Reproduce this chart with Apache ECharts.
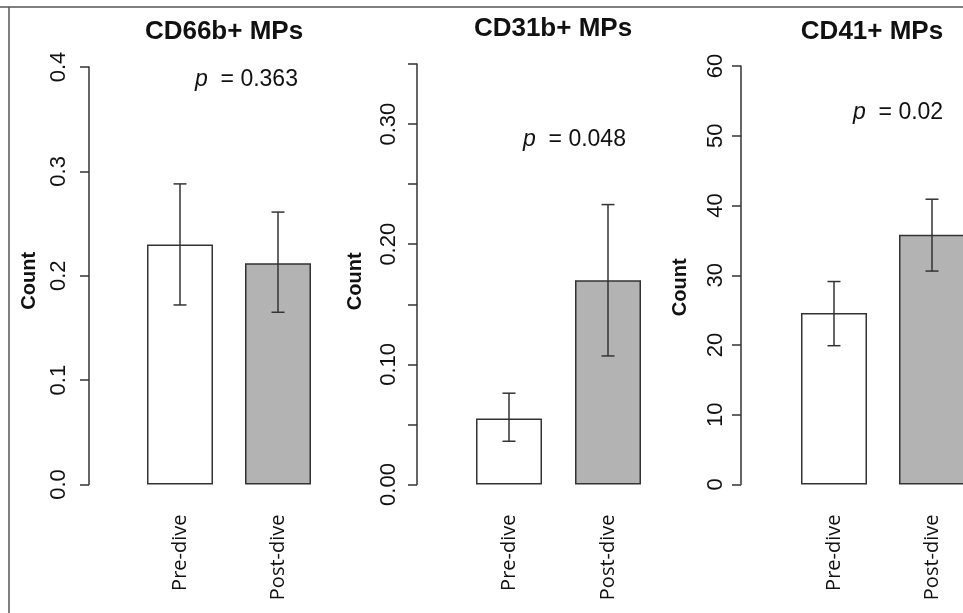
<!DOCTYPE html>
<html>
<head>
<meta charset="utf-8">
<script src="https://cdn.jsdelivr.net/npm/echarts@6/dist/echarts.min.js"></script>
<style>
  html, body { margin: 0; padding: 0; background: #fff; }
  #chart { width: 963px; height: 613px; }
</style>
</head>
<body>
<div id="chart"></div>
<script>
// groups and panel texts
const groups = ["Pre-dive", "Post-dive"];
const titles = ["CD66b+ MPs", "CD31b+ MPs", "CD41+ MPs"];
const pValues = ["0.363", "0.048", "0.02"];

// means and error bar ends
const cd66bMean = [0.23, 0.212];
const cd66bLow = [0.172, 0.165];
const cd66bHigh = [0.288, 0.261];

const cd31bMean = [0.055, 0.17];
const cd31bLow = [0.036, 0.107];
const cd31bHigh = [0.076, 0.233];

const cd41Mean = [24.6, 35.8];
const cd41Low = [19.9, 30.6];
const cd41High = [29.1, 40.9];

// y axis ranges
const yMax = [0.4, 0.35, 60];
const yStep = [0.1, 0.05, 10];

const means = [cd66bMean, cd31bMean, cd41Mean];
const lows = [cd66bLow, cd31bLow, cd41Low];
const highs = [cd66bHigh, cd31bHigh, cd41High];

const labelFmt = [
  (v) => v.toFixed(1),
  (v) => (Math.round(v * 100) % 10 === 0 ? v.toFixed(2) : ""),
  (v) => String(Math.round(v)),
];

// layout of each panel
const panels = [
  { left: 131, width: 196, top: 67, offset: 42, margin: 19, nameGap: 50, namePad: 10, titleX: 224, titleY: 32, pX: 195, pY: 80 },
  { left: 459.5, width: 198, top: 64, offset: 42.5, margin: 17, nameGap: 52, namePad: 14, titleX: 553, titleY: 29, pX: 523, pY: 140 },
  { left: 785, width: 196, top: 66, offset: 44, margin: 14, nameGap: 51, namePad: 24, titleX: 872, titleY: 32, pX: 853, pY: 113 },
];
const axisBottom = 484.5;
const ink = "#333";
const barFill = ["#ffffff", "#b3b3b3"];

const chart = echarts.init(document.getElementById("chart"));

const grid = [], xAxis = [], yAxis = [], series = [], graphic = [];

panels.forEach((p, i) => {
  grid.push({
    left: p.left,
    width: p.width,
    top: p.top,
    height: axisBottom - p.top,
    outerBoundsMode: "none",
    containLabel: false,
  });

  xAxis.push({
    type: "category",
    gridIndex: i,
    data: groups,
    axisLine: { show: false },
    axisTick: { show: false },
    axisLabel: {
      rotate: 90,
      margin: 30,
      color: "#111",
      fontFamily: "Open Sans",
      fontSize: 20,
    },
  });

  yAxis.push({
    type: "value",
    gridIndex: i,
    min: 0,
    max: yMax[i],
    interval: yStep[i],
    offset: p.offset,
    splitLine: { show: false },
    axisLine: { show: true, lineStyle: { color: ink, width: 1.5 } },
    axisTick: { show: true, length: 9, lineStyle: { color: ink, width: 1.5 } },
    axisLabel: {
      rotate: 90,
      margin: p.margin,
      color: "#111",
      fontFamily: "Liberation Sans",
      fontSize: 22,
      formatter: labelFmt[i],
    },
    name: "Count",
    nameLocation: "middle",
    nameRotate: 90,
    nameGap: p.nameGap,
    nameMoveOverlap: false,
    nameTextStyle: {
      color: "#111",
      fontFamily: "Liberation Sans",
      fontWeight: "bold",
      fontSize: 20,
      padding: [0, p.namePad, 0, 0],
    },
  });

  series.push({
    type: "bar",
    xAxisIndex: i,
    yAxisIndex: i,
    barWidth: 66,
    data: means[i].map((v, k) => ({
      value: v,
      itemStyle: { color: barFill[k] },
    })),
    itemStyle: { borderColor: ink, borderWidth: 1.5 },
    silent: true,
  });

  series.push({
    type: "custom",
    xAxisIndex: i,
    yAxisIndex: i,
    data: groups.map((g, k) => [k, lows[i][k], highs[i][k]]),
    renderItem: function (params, api) {
      const lo = api.coord([api.value(0), api.value(1)]);
      const hi = api.coord([api.value(0), api.value(2)]);
      const half = 6.5;
      const st = { stroke: ink, lineWidth: 1.5 };
      return {
        type: "group",
        children: [
          { type: "line", shape: { x1: lo[0], y1: lo[1], x2: hi[0], y2: hi[1] }, style: st },
          { type: "line", shape: { x1: hi[0] - half, y1: hi[1], x2: hi[0] + half, y2: hi[1] }, style: st },
          { type: "line", shape: { x1: lo[0] - half, y1: lo[1], x2: lo[0] + half, y2: lo[1] }, style: st },
        ],
      };
    },
    z: 5,
    silent: true,
  });

  graphic.push({
    type: "text",
    x: p.titleX,
    y: p.titleY,
    style: {
      text: titles[i],
      align: "center",
      verticalAlign: "middle",
      fill: "#111",
      font: "bold 26px 'Liberation Sans'",
    },
  });

  graphic.push({
    type: "text",
    x: p.pX,
    y: p.pY,
    style: {
      text: "{i|p}  = " + pValues[i],
      align: "left",
      verticalAlign: "middle",
      fill: "#111",
      font: "23px 'Liberation Sans'",
      rich: { i: { fontStyle: "italic", fontSize: 23, fontFamily: "Liberation Sans", fill: "#111" } },
    },
  });
});

// outer frame of the figure
graphic.push({ type: "line", shape: { x1: 0, y1: 7, x2: 963, y2: 7 }, style: { stroke: "#555", lineWidth: 1.5 } });
graphic.push({ type: "line", shape: { x1: 9, y1: 7, x2: 9, y2: 613 }, style: { stroke: "#555", lineWidth: 1.5 } });

chart.setOption({
  backgroundColor: "#fff",
  animation: false,
  grid: grid,
  xAxis: xAxis,
  yAxis: yAxis,
  series: series,
  graphic: graphic,
});
</script>
</body>
</html>
